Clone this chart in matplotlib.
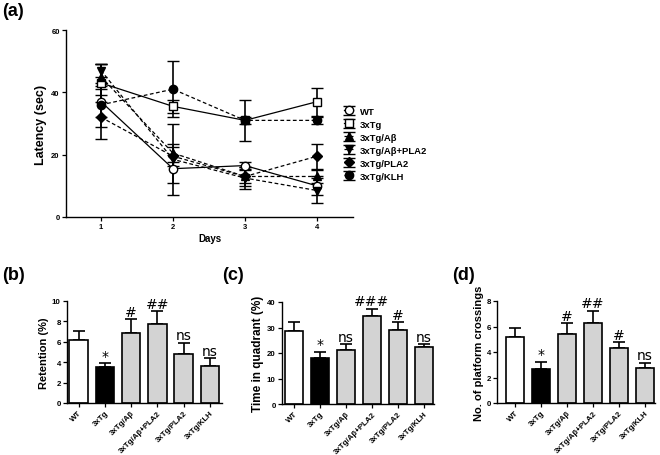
import matplotlib
matplotlib.use("Agg")
import matplotlib.pyplot as plt
import numpy as np

plt.rcParams['font.family'] = ['Liberation Sans', 'DejaVu Sans']

# ---------------- data ----------------
days = [1, 2, 3, 4]
groups = ['WT', '3xTg', '3xTg/Aβ', '3xTg/Aβ+PLA2', '3xTg/PLA2', '3xTg/KLH']
latency_wt = [37, 15.5, 16.5, 10]
latency_wt_err = [5, 4.5, 1, 3]
latency_tg = [43, 35.5, 31, 37]
latency_tg_err = [6, 2, 6.5, 4.5]
latency_ab = [45, 20.5, 13, 13]
latency_ab_err = [4, 3, 3, 2]
latency_abpla = [47, 18.5, 12.5, 8.5]
latency_abpla_err = [2, 11.5, 3.5, 4]
latency_pla = [32, 19.5, 13, 19.5]
latency_pla_err = [7, 3, 2, 4]
latency_klh = [36, 41, 31, 31]
latency_klh_err = [7, 9, 1, 1]

retention = [6.2, 3.5, 6.9, 7.7, 4.8, 3.6]
retention_err = [0.9, 0.4, 1.3, 1.3, 1.1, 0.8]
retention_sig = ['', '*', '#', '##', 'ns', 'ns']

quadrant = [28.7, 18.2, 21.0, 34.5, 29.0, 22.3]
quadrant_err = [3.5, 2.3, 2.5, 2.8, 3.0, 1.1]
quadrant_sig = ['', '*', 'ns', '###', '#', 'ns']

crossings = [5.2, 2.65, 5.4, 6.3, 4.3, 2.75]
crossings_err = [0.65, 0.6, 0.85, 0.95, 0.45, 0.4]
crossings_sig = ['', '*', '#', '##', '#', 'ns']

bar_colors = ['white', 'black', '#d3d3d3', '#d3d3d3', '#d3d3d3', '#d3d3d3']

W, H = 660, 456
fig = plt.figure(figsize=(6.6, 4.56), dpi=100)

def ax_px(x0, x1, ytop, ybot):
    return fig.add_axes([x0 / W, 1 - ybot / H, (x1 - x0) / W, (ybot - ytop) / H])

def style(ax, ls=5.5):
    for s in ['top', 'right']:
        ax.spines[s].set_visible(False)
    for s in ['left', 'bottom']:
        ax.spines[s].set_linewidth(1.0)
    ax.tick_params(direction='out', length=3, width=0.9, labelsize=ls, pad=1.5)
    for lab in ax.get_yticklabels() + ax.get_xticklabels():
        lab.set_fontweight('bold')

# ---------------- panel (a) ----------------
axa = ax_px(66, 353, 31, 218)
series = [
    ('WT', latency_wt, latency_wt_err, 'o', 'white', '-'),
    ('3xTg', latency_tg, latency_tg_err, 's', 'white', '-'),
    ('3xTg/Aβ', latency_ab, latency_ab_err, '^', 'black', '--'),
    ('3xTg/Aβ+PLA2', latency_abpla, latency_abpla_err, 'v', 'black', '--'),
    ('3xTg/PLA2', latency_pla, latency_pla_err, 'D', 'black', '--'),
    ('3xTg/KLH', latency_klh, latency_klh_err, 'o', 'black', '--'),
]
handles = []
for name, y, e, m, fc, ls in series:
    ms = 6 if m != 'D' else 5
    kw = dict(fmt=m, ls=ls, color='black', mfc=fc, mec='black', ms=ms, mew=1.0, lw=0.9,
              elinewidth=1.2, capsize=4, capthick=1.2, label=name)
    if ls == '--':
        kw['dashes'] = (3, 2)
    h = axa.errorbar(days, y, yerr=e, **kw)
    handles.append(h)
axa.set_xlim(0.514, 4.5)
axa.set_ylim(0, 60)
axa.set_xticks(days)
axa.set_yticks([0, 20, 40, 60])
axa.set_xlabel('Days', fontsize=7, fontweight='bold', labelpad=2)
axa.set_ylabel('Latency (sec)', fontsize=9, fontweight='bold', labelpad=3)
style(axa)
leg = axa.legend(handles=handles, loc='upper left', bbox_to_anchor=(0.955, 0.61),
                 frameon=False, prop={'size': 6.8, 'weight': 'bold'},
                 handlelength=1.0, handletextpad=0.7, labelspacing=0.42, borderaxespad=0)

fig.text(2 / W, 1 - 12 / H, '(a)', fontsize=13, fontweight='bold', va='center', ha='left')

# ---------------- bar panels ----------------
def bar_panel(x0, x1, ytop, ybot, vals, errs, sigs, ymax, yticks, ylabel, ylfs, xl, xr, pad_sig):
    ax = ax_px(x0, x1, ytop, ybot)
    x = np.arange(len(groups))
    ax.bar(x, vals, width=0.7, color=bar_colors, edgecolor='black', linewidth=1.2, zorder=2)
    ax.errorbar(x, vals, yerr=[np.zeros(len(vals)), errs], fmt='none', ecolor='black',
                elinewidth=1.2, capsize=4, capthick=1.2, zorder=1)
    for xi, v, e, s in zip(x, vals, errs, sigs):
        if s:
            ax.text(xi, v + e + pad_sig, s, ha='center', va='bottom', fontsize=10,
                    family='DejaVu Sans')
    ax.set_xlim(xl, xr)
    ax.set_ylim(0, ymax)
    ax.set_yticks(yticks)
    ax.set_xticks(x)
    ax.set_xticklabels(groups, rotation=45, ha='right', rotation_mode='anchor')
    ax.set_ylabel(ylabel, fontsize=ylfs, fontweight='bold', labelpad=2)
    style(ax, 5.7)
    return ax

bar_panel(67, 222, 302, 404, retention, retention_err, retention_sig, 10, [0, 2, 4, 6, 8, 10],
          'Retention (%)', 8, -0.44, 5.46, 0.05)
bar_panel(282, 434, 303, 405, quadrant, quadrant_err, quadrant_sig, 40, [0, 10, 20, 30, 40],
          'Time in quadrant (%)', 8.5, -0.45, 5.38, 0.2)
bar_panel(497, 655, 302, 404, crossings, crossings_err, crossings_sig, 8, [0, 2, 4, 6, 8],
          'No. of platform crossings', 8, -0.69, 5.38, 0.05)

fig.text(2 / W, 1 - 276 / H, '(b)', fontsize=13, fontweight='bold', va='center', ha='left')
fig.text(222 / W, 1 - 276 / H, '(c)', fontsize=13, fontweight='bold', va='center', ha='left')
fig.text(452 / W, 1 - 276 / H, '(d)', fontsize=13, fontweight='bold', va='center', ha='left')

fig.savefig('out.png', dpi=100)
